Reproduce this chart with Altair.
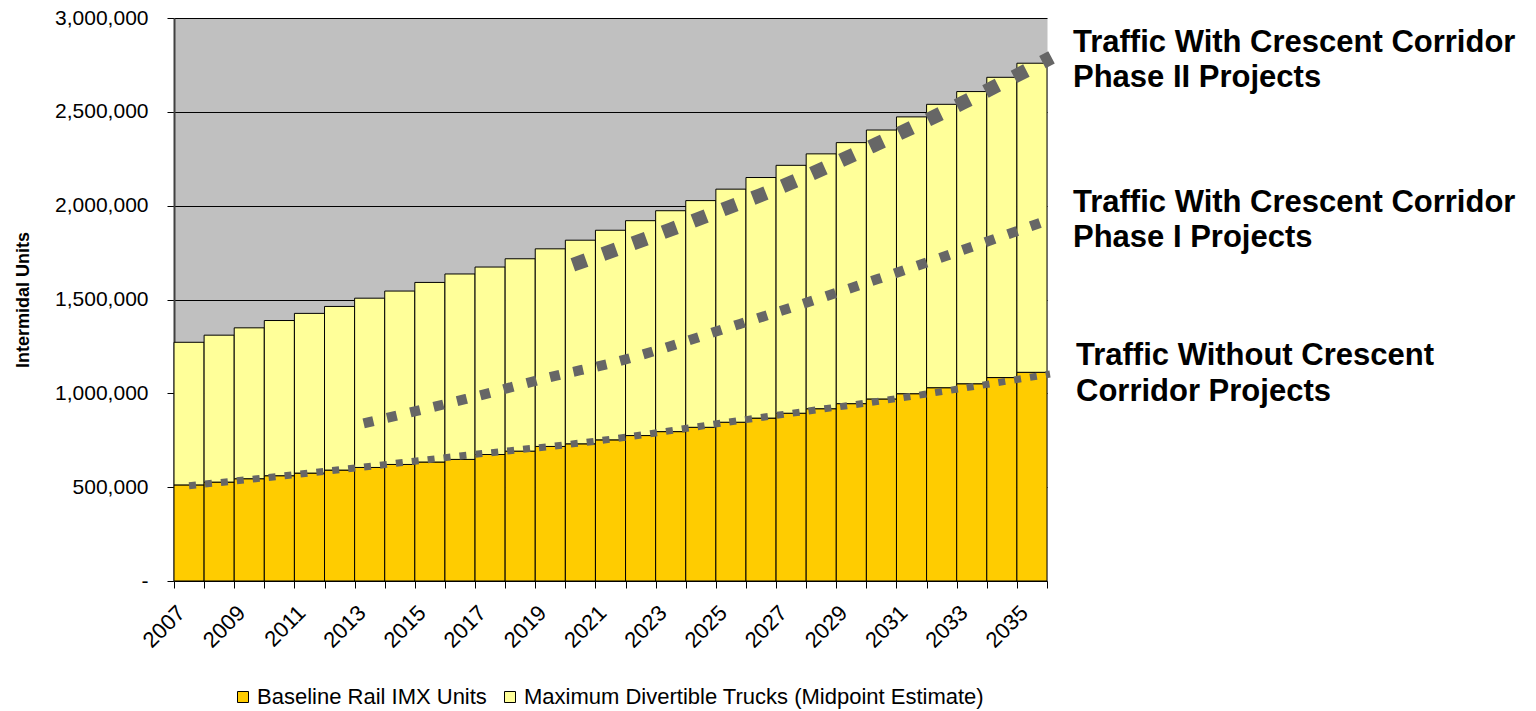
import altair as alt
import pandas as pd

# ---------------- data ----------------
YEARS = list(range(2007, 2036))
BASELINE = [0.512, 0.527, 0.545, 0.561, 0.575, 0.591, 0.605, 0.621, 0.634, 0.648,
            0.674, 0.692, 0.717, 0.731, 0.752, 0.775, 0.796, 0.819, 0.846, 0.868,
            0.894, 0.918, 0.945, 0.970, 0.998, 1.030, 1.051, 1.084, 1.112]
TOTAL = [1.272, 1.310, 1.349, 1.388, 1.426, 1.463, 1.507, 1.545, 1.591, 1.636,
         1.673, 1.717, 1.770, 1.816, 1.869, 1.920, 1.973, 2.027, 2.088, 2.150,
         2.215, 2.276, 2.336, 2.403, 2.473, 2.540, 2.608, 2.684, 2.759]
SERIES = ["Baseline Rail IMX Units", "Maximum Divertible Trucks (Midpoint Estimate)"]
SERIES_COLORS = ["#FFCC00", "#FFFF99"]

# trend lines (year position, value in millions)
NOPROJ_X = [2007.0, 2011.0, 2016.0, 2020.5, 2025.5, 2030.5, 2035.6]
NOPROJ_V = [0.508, 0.575, 0.666, 0.745, 0.860, 0.972, 1.103]
PHASE1_X = [2012.8, 2016.2, 2019.2, 2021.0, 2025.3, 2029.9, 2035.4]
PHASE1_V = [0.840, 0.970, 1.094, 1.160, 1.370, 1.610, 1.915]
PHASE2_X = [2019.75, 2023.0, 2025.0, 2026.0, 2029.85, 2032.7, 2035.65]
PHASE2_V = [1.685, 1.873, 1.996, 2.057, 2.329, 2.548, 2.790]

Y_TICKS = [0, 500000, 1000000, 1500000, 2000000, 2500000, 3000000]
ANNOT_PHASE2 = ["Traffic With Crescent Corridor", "Phase II Projects"]
ANNOT_PHASE1 = ["Traffic With Crescent Corridor", "Phase I Projects"]
ANNOT_NONE = ["Traffic Without Crescent", "Corridor Projects"]
Y_TITLE = "Intermidal Units"

# ---------------- tables ----------------
rows = []
for yr, b, t in zip(YEARS, BASELINE, TOTAL):
    rows.append({"year": yr, "series": SERIES[0], "lo": 0.0, "hi": b * 1e6})
    rows.append({"year": yr, "series": SERIES[1], "lo": b * 1e6, "hi": t * 1e6})
bar_df = pd.DataFrame(rows)


def line_df(xs, vs):
    return pd.DataFrame({"year": xs, "value": [v * 1e6 for v in vs]})


FONT = "Liberation Sans"

xscale = alt.Scale(domain=[YEARS[0] - 0.5, YEARS[-1] + 0.5], nice=False, zero=False)
yscale = alt.Scale(domain=[0, 3000000], nice=False)

xaxis = alt.Axis(
    title=None,
    values=[y - 0.5 for y in YEARS] + [YEARS[-1] + 0.5],
    labelExpr="((datum.value + 0.5) % 2 == 1 && datum.value < 2035) ? '' + (datum.value + 0.5) : ''",
    labelAngle=-45, labelAlign="right", labelBaseline="middle",
    labelOffset=7, labelPadding=21, labelFont=FONT, labelFontSize=22,
    labelColor="black", labelOverlap=False, labelFlush=False, labelBound=False,
    tickSize=7, tickColor="black", tickWidth=1,
    domainColor="black", domainWidth=1, grid=False,
)
yaxis = alt.Axis(
    title=Y_TITLE, titleFont=FONT, titleFontSize=18, titleFontWeight="bold",
    titleColor="black", titlePadding=22,
    values=Y_TICKS,
    labelExpr="datum.value == 0 ? '-' : format(datum.value, ',')",
    labelFont=FONT, labelFontSize=21, labelColor="black", labelPadding=19,
    tickSize=7, tickColor="black", tickWidth=1,
    domainColor="#404040", domainWidth=2,
    grid=True, gridColor="black", gridWidth=1,
)

bars = alt.Chart(bar_df).transform_calculate(
    x0="datum.year - 0.5", x1="datum.year + 0.5"
).mark_bar(stroke="black", strokeWidth=1, opacity=1).encode(
    x=alt.X("x0:Q", scale=xscale, axis=xaxis),
    x2="x1:Q",
    y=alt.Y("lo:Q", scale=yscale, axis=yaxis),
    y2="hi:Q",
    color=alt.Color(
        "series:N",
        scale=alt.Scale(domain=SERIES, range=SERIES_COLORS),
        legend=alt.Legend(
            title=None, orient="none", legendX=58, legendY=668,
            direction="horizontal", symbolType="square", symbolSize=121,
            symbolStrokeColor="black", symbolStrokeWidth=1, symbolOpacity=1,
            labelFont=FONT, labelFontSize=22, labelColor="black",
            labelOffset=3, columnPadding=12, labelLimit=1000, padding=0,
        ),
    ),
)


def trend(xs, vs, width, dash):
    return alt.Chart(line_df(xs, vs)).mark_line(
        color="#666666", strokeWidth=width, strokeDash=dash, strokeCap="butt",
        interpolate="monotone",
    ).encode(
        x=alt.X("year:Q", scale=xscale, axis=xaxis),
        y=alt.Y("value:Q", scale=yscale, axis=yaxis),
    )


l0 = trend(NOPROJ_X, NOPROJ_V, 7, [7, 9])
l1 = trend(PHASE1_X, PHASE1_V, 10, [10, 14])
l2 = trend(PHASE2_X, PHASE2_V, 14, [14, 18])

one = pd.DataFrame({"k": [0]})


def annot(lines, x, y):
    return alt.Chart(one).mark_text(
        text=lines, align="left", baseline="alphabetic", font=FONT,
        fontSize=31, fontWeight="bold", lineHeight=35.6, color="black",
    ).encode(x=alt.value(x), y=alt.value(y))


a2 = annot(ANNOT_PHASE2, 899, 33.7)
a1 = annot(ANNOT_PHASE1, 899, 193.7)
a0 = annot(ANNOT_NONE, 902, 347)

chart = alt.layer(bars, l0, l1, l2, a2, a1, a0).properties(
    width=873, height=563,
    padding={"left": 166, "top": 10, "right": 481, "bottom": 130},
    autosize=alt.AutoSizeParams(type="none"),
).configure(font=FONT).configure_view(fill="#C0C0C0", stroke="transparent")

chart.save("out.html", embed_options={"renderer": "svg", "actions": False})
